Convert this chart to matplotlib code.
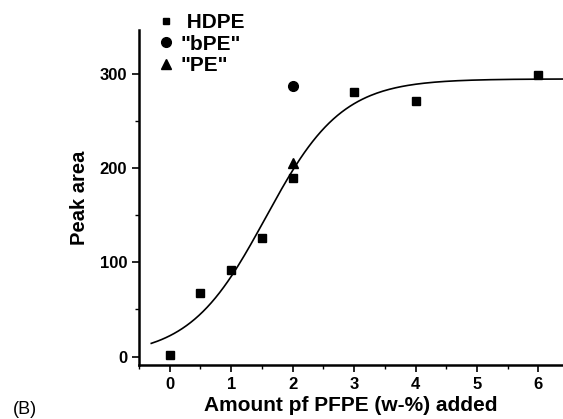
import numpy as np
import matplotlib
matplotlib.use("Agg")
import matplotlib.pyplot as plt
from matplotlib.ticker import MultipleLocator

plt.rcParams['font.family'] = ['Liberation Sans', 'DejaVu Sans']

# data
hdpe_x = [0, 0.5, 1, 1.5, 2, 3, 4, 6]
hdpe_y = [2, 67, 92, 126, 190, 281, 272, 299]
bpe_x = [2]
bpe_y = [288]
pe_x = [2]
pe_y = [206]

# sigmoidal (Boltzmann) fit drawn in the figure
fit_top = 295
fit_bottom = 0
fit_x0 = 1.56
fit_dx = 0.62
fit_range = (-0.3, 6.4)

fig = plt.figure(figsize=(5.63, 4.19), dpi=100)
ax = fig.add_axes([139 / 563, 54 / 419, 424 / 563, 335 / 419])

xs = np.linspace(fit_range[0], fit_range[1], 200)
ys = fit_top + (fit_bottom - fit_top) / (1 + np.exp((xs - fit_x0) / fit_dx))
ax.plot(xs, ys, color='black', lw=1.2, zorder=1)

ax.plot(hdpe_x, hdpe_y, 's', color='black', ms=6, label=' HDPE', zorder=2)
ax.plot(bpe_x, bpe_y, 'o', color='black', ms=7, label='"bPE"', zorder=2)
ax.plot(pe_x, pe_y, '^', color='black', ms=6.5, label='"PE"', zorder=2)

ax.set_xlim(-0.5, 6.4)
ax.set_ylim(-9, 347)
ax.set_xticks([0, 1, 2, 3, 4, 5, 6])
ax.set_yticks([0, 100, 200, 300])
ax.xaxis.set_minor_locator(MultipleLocator(0.5))
ax.yaxis.set_minor_locator(MultipleLocator(50))

for s in ['top', 'right']:
    ax.spines[s].set_visible(False)
for s in ['left', 'bottom']:
    ax.spines[s].set_linewidth(1.8)

ax.tick_params(which='major', direction='out', length=5, width=1.2, labelsize=12)
ax.tick_params(which='minor', direction='out', length=3, width=1)
for lab in ax.get_xticklabels() + ax.get_yticklabels():
    lab.set_fontweight('bold')

ax.set_xlabel('Amount pf PFPE (w-%) added', fontsize=15, fontweight='bold', labelpad=3)
ax.set_ylabel('Peak area', fontsize=14.5, fontweight='bold', labelpad=8)

leg = ax.legend(loc='upper left', bbox_to_anchor=(0.02, 1.075), frameon=False,
                handletextpad=0.2, labelspacing=0.12, borderaxespad=0,
                handlelength=1.0, prop={'weight': 'bold', 'size': 15})
leg.legend_handles[0].set_markersize(5)

fig.text(13 / 563, 1 - 409 / 419, '(B)', fontsize=13, va='center', ha='left')

fig.savefig('out.png', dpi=100)
